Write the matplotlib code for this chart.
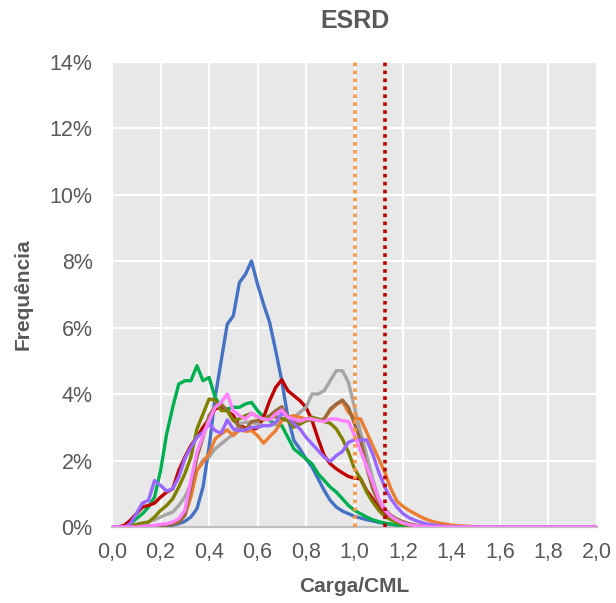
import matplotlib
matplotlib.use("Agg")
import matplotlib.pyplot as plt
from matplotlib.ticker import FuncFormatter, MultipleLocator

plt.rcParams["font.family"] = ["Liberation Sans", "DejaVu Sans"]

# load ratio (Carga/CML), step 0.025 up to 1.5, then the tail end at 2.0
x_load = [round(0.025 * i, 3) for i in range(61)] + [2.0]

# frequency in %
blue = [0, 0, 0, 0, 0, 0, 0, 0, 0.02, 0.03,
        0.06, 0.1, 0.17, 0.3, 0.55, 1.2, 2.4, 3.9, 5.0, 6.1,
        6.35, 7.35, 7.6, 8.0, 7.3, 6.7, 6.15, 5.3, 4.4, 3.3,
        2.6, 2.35, 2.05, 1.8, 1.45, 1.1, 0.8, 0.6, 0.48, 0.4,
        0.32, 0.27, 0.22, 0.18, 0.14, 0.1, 0.08, 0.06, 0.04, 0.03,
        0.02, 0.01, 0, 0, 0, 0, 0, 0, 0, 0, 0, 0]
green = [0, 0, 0, 0.1, 0.25, 0.4, 0.6, 0.9, 1.7, 2.8,
         3.6, 4.3, 4.4, 4.4, 4.85, 4.4, 4.5, 3.9, 3.6, 3.55,
         3.6, 3.6, 3.7, 3.75, 3.5, 3.3, 3.2, 3.1, 3.05, 2.7,
         2.35, 2.2, 2.05, 1.9, 1.6, 1.4, 1.2, 1.05, 0.85, 0.65,
         0.5, 0.4, 0.3, 0.22, 0.16, 0.12, 0.09, 0.06, 0.04, 0.02,
         0.01, 0, 0, 0, 0, 0, 0, 0, 0, 0, 0, 0]
red = [0, 0, 0.05, 0.2, 0.4, 0.6, 0.65, 0.72, 0.9, 1.05,
       1.15, 1.7, 2.1, 2.45, 2.7, 3.0, 3.25, 3.55, 3.62, 3.5,
       3.35, 3.05, 2.98, 2.92, 2.98, 3.3, 3.8, 4.2, 4.43, 4.1,
       3.95, 3.8, 3.6, 3.2, 2.65, 2.15, 1.9, 1.75, 1.63, 1.52,
       1.47, 1.45, 1.1, 0.85, 0.57, 0.4, 0.28, 0.2, 0.12, 0.07,
       0.04, 0.02, 0.01, 0, 0, 0, 0, 0, 0, 0, 0, 0]
gray = [0, 0, 0, 0, 0.05, 0.1, 0.15, 0.22, 0.3, 0.38,
        0.45, 0.65, 0.9, 1.3, 1.7, 2.02, 2.1, 2.35, 2.5, 2.65,
        2.8, 3.1, 3.15, 3.15, 3.1, 3.05, 3.05, 3.1, 3.2, 3.25,
        3.3, 3.45, 3.6, 4.0, 4.0, 4.1, 4.4, 4.7, 4.7, 4.35,
        3.6, 2.85, 2.15, 1.45, 0.85, 0.55, 0.35, 0.22, 0.14, 0.08,
        0.05, 0.03, 0.01, 0, 0, 0, 0, 0, 0, 0, 0, 0]
orange = [0, 0, 0, 0, 0, 0, 0.02, 0.03, 0.05, 0.08,
          0.1, 0.15, 0.35, 0.9, 1.7, 1.95, 2.2, 2.65, 2.8, 2.92,
          2.75, 2.92, 2.88, 2.9, 2.75, 2.52, 2.72, 2.9, 3.2, 3.3,
          3.35, 3.3, 3.25, 3.3, 3.2, 3.25, 3.5, 3.68, 3.78, 3.45,
          3.28, 3.25, 2.85, 2.45, 2.05, 1.65, 1.15, 0.78, 0.62, 0.5,
          0.4, 0.3, 0.22, 0.16, 0.12, 0.09, 0.06, 0.04, 0.03, 0.02, 0.01, 0]
olive = [0, 0, 0, 0.03, 0.08, 0.12, 0.15, 0.3, 0.5, 0.65,
         0.85, 1.2, 1.6, 2.1, 2.95, 3.4, 3.85, 3.82, 3.5, 3.5,
         3.2, 3.25, 3.35, 3.42, 3.32, 3.22, 3.28, 3.32, 3.27, 3.2,
         3.0, 3.1, 3.2, 3.3, 3.25, 3.17, 3.12, 2.95, 2.65, 2.25,
         1.75, 1.45, 1.05, 0.75, 0.5, 0.32, 0.22, 0.14, 0.08, 0.05,
         0.03, 0.02, 0.01, 0, 0, 0, 0, 0, 0, 0, 0, 0]
brown = [0, 0, 0, 0, 0, 0.02, 0.03, 0.04, 0.05, 0.06,
         0.08, 0.15, 0.35, 1.2, 2.1, 2.7, 3.35, 3.62, 3.7, 3.5,
         3.22, 3.02, 2.92, 3.17, 3.2, 3.25, 3.35, 3.5, 3.62, 3.3,
         3.15, 3.1, 3.2, 3.22, 3.22, 3.25, 3.55, 3.7, 3.82, 3.6,
         3.1, 2.6, 1.8, 1.15, 0.72, 0.5, 0.35, 0.24, 0.16, 0.1,
         0.06, 0.03, 0.02, 0.01, 0, 0, 0, 0, 0, 0, 0, 0]
purple = [0, 0, 0, 0.1, 0.4, 0.72, 0.8, 1.4, 1.25, 1.08,
          1.15, 1.5, 2.05, 2.4, 2.7, 2.85, 3.1, 2.9, 2.82, 3.22,
          2.95, 2.9, 2.92, 3.0, 3.0, 3.05, 3.05, 3.15, 3.42, 3.32,
          3.1, 2.95, 2.7, 2.5, 2.3, 2.1, 1.97, 2.15, 2.27, 2.55,
          2.62, 2.62, 2.62, 2.2, 1.65, 1.2, 0.85, 0.6, 0.4, 0.28,
          0.2, 0.14, 0.09, 0.06, 0.04, 0.02, 0.01, 0, 0, 0, 0, 0]
pink = [0, 0, 0, 0, 0, 0.02, 0.03, 0.05, 0.08, 0.1,
        0.15, 0.25, 0.5, 1.4, 2.25, 2.75, 3.2, 3.6, 3.75, 4.0,
        3.5, 3.35, 3.25, 3.42, 3.32, 3.25, 3.22, 3.4, 3.52, 3.3,
        3.25, 3.18, 3.25, 3.25, 3.2, 3.17, 3.25, 3.25, 3.2, 3.17,
        2.75, 2.3, 1.82, 1.35, 0.85, 0.5, 0.32, 0.2, 0.12, 0.07,
        0.04, 0.02, 0.01, 0, 0, 0, 0, 0, 0, 0, 0, 0]

# reference limits (dotted verticals)
limit_x = [1.0, 1.125]
limit_colors = ["#F79646", "#C00000"]

series = [
    (blue, "#4472C4"),
    (green, "#00B050"),
    (red, "#C00000"),
    (gray, "#A5A5A5"),
    (orange, "#ED7D31"),
    (brown, "#9C6A3A"),
    (olive, "#808000"),
    (purple, "#9966FF"),
    (pink, "#FF80FF"),
]

text_col = "#595959"

fig = plt.figure(figsize=(6.16, 6.03), dpi=100)
ax = fig.add_axes([0.182, 0.126, 0.787, 0.772])
ax.set_facecolor("#E8E8E8")

for vals, col in series:
    ax.plot(x_load, vals, color=col, lw=2.4, solid_joinstyle="round", zorder=3)

for xv, col in zip(limit_x, limit_colors):
    ax.axvline(xv, color=col, lw=2.6, linestyle=(0, (1, 1.2)),
               dash_capstyle="butt", zorder=4)

ax.set_xlim(0, 2.0)
ax.set_ylim(0, 14)
ax.xaxis.set_major_locator(MultipleLocator(0.2))
ax.yaxis.set_major_locator(MultipleLocator(2))
ax.xaxis.set_major_formatter(FuncFormatter(lambda v, p: f"{v:.1f}".replace(".", ",")))
ax.yaxis.set_major_formatter(FuncFormatter(lambda v, p: f"{v:.0f}%"))

ax.grid(True, color="white", lw=1.6, zorder=1)
ax.set_axisbelow(True)
for s in ["top", "right", "left"]:
    ax.spines[s].set_visible(False)
ax.spines["bottom"].set_color("#BFBFBF")
ax.spines["bottom"].set_linewidth(1.6)

ax.tick_params(axis="both", length=0, labelsize=15.5, labelcolor=text_col)
ax.tick_params(axis="x", pad=11)
ax.tick_params(axis="y", pad=14)

ax.set_title("ESRD", fontsize=18, fontweight="bold", color=text_col, pad=24)
ax.set_xlabel("Carga/CML", fontsize=15, fontweight="bold", color=text_col, labelpad=10)
ax.set_ylabel("Frequência", fontsize=15, fontweight="bold", color=text_col, labelpad=12)

fig.savefig("out.png", dpi=100)
